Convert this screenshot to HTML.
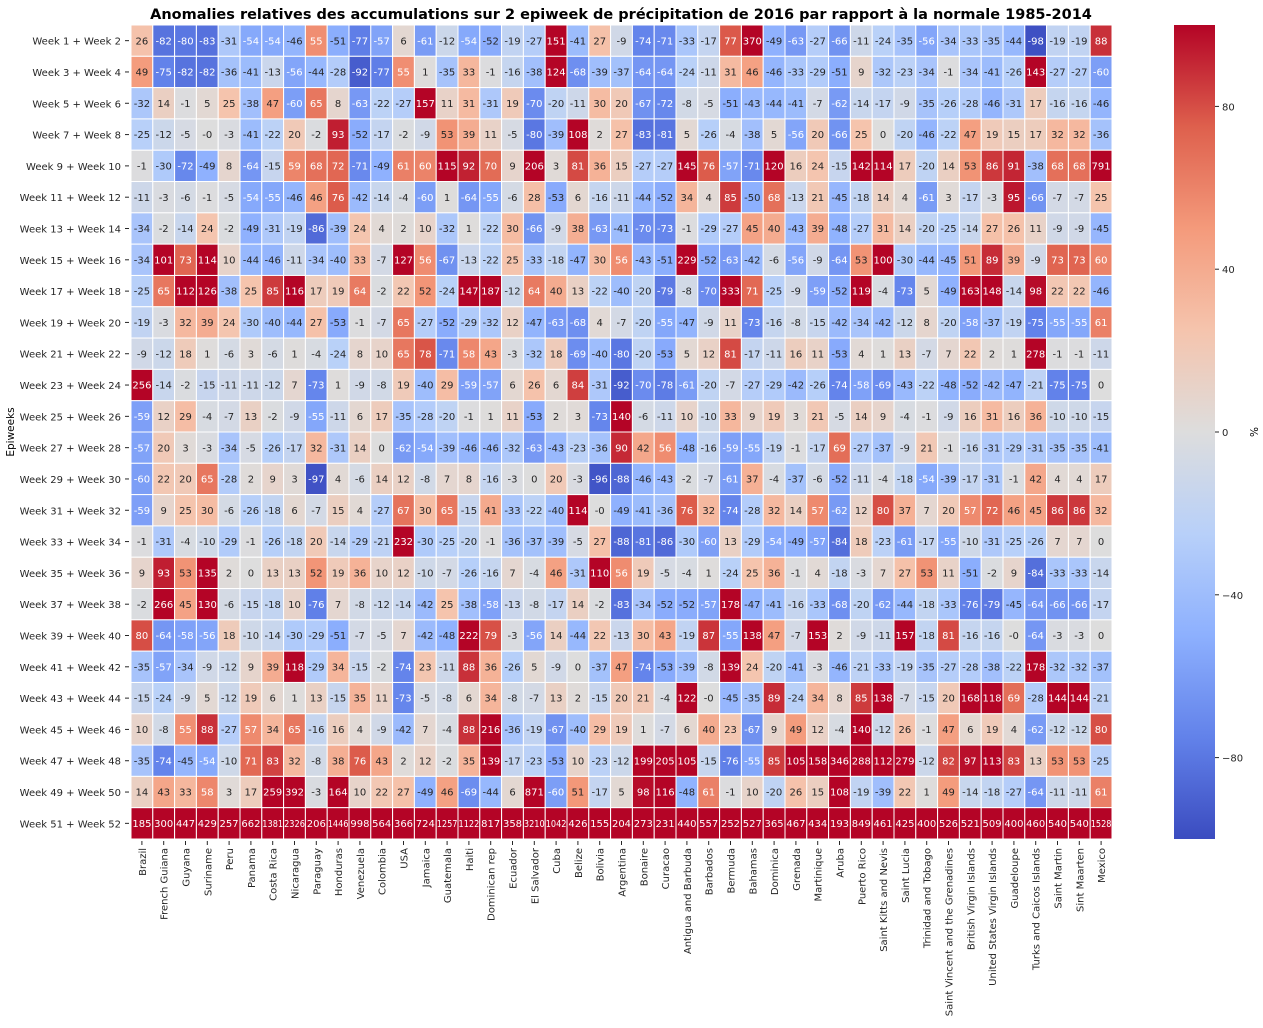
<!DOCTYPE html>
<html><head><meta charset="utf-8">
<style>
body{margin:0;background:#fff;font-family:"Liberation Sans","DejaVu Sans",sans-serif;}
svg text{font-family:"DejaVu Sans","Liberation Sans",sans-serif;}
</style></head>
<body>
<svg id="chart" width="1263" height="1023" xmlns="http://www.w3.org/2000/svg">
<defs>
<linearGradient id="cbgrad" x1="0" y1="1" x2="0" y2="0">
<stop offset="0" stop-color="rgb(59,76,192)"/><stop offset="0.125" stop-color="rgb(98,130,234)"/>
<stop offset="0.25" stop-color="rgb(141,176,254)"/><stop offset="0.375" stop-color="rgb(184,208,249)"/>
<stop offset="0.5" stop-color="rgb(221,221,221)"/><stop offset="0.625" stop-color="rgb(245,196,173)"/>
<stop offset="0.75" stop-color="rgb(244,154,123)"/><stop offset="0.875" stop-color="rgb(222,96,77)"/>
<stop offset="1" stop-color="rgb(180,4,38)"/>
</linearGradient>
</defs>
<text x="621" y="19" text-anchor="middle" font-size="14.5" font-weight="bold">Anomalies relatives des accumulations sur 2 epiweek de précipitation de 2016 par rapport à la normale 1985-2014</text>
<g id="cells"></g>
<g id="ylabels"></g>
<g id="xlabels"></g>
<text transform="translate(14,432) rotate(-90)" text-anchor="middle" font-size="10.5">Epiweeks</text>
<rect x="1174" y="25" width="41" height="814" fill="url(#cbgrad)"/>
<g id="cbticks"></g>
<text transform="translate(1250,432) rotate(90)" text-anchor="middle" font-size="10.5">%</text>
</svg>
<script>
const countries=["Brazil","French Guiana","Guyana","Suriname","Peru","Panama","Costa Rica","Nicaragua","Paraguay","Honduras","Venezuela","Colombia","USA","Jamaica","Guatemala","Haiti","Dominican rep","Ecuador","El Salvador","Cuba","Belize","Bolivia","Argentina","Bonaire","Curacao","Antigua and Barbuda","Barbados","Bermuda","Bahamas","Dominica","Grenada","Martinique","Aruba","Puerto Rico","Saint Kitts and Nevis","Saint Lucia","Trinidad and Tobago","Saint Vincent and the Grenadines","British Virgin Islands","United States Virgin Islands","Guadeloupe","Turks and Caicos Islands","Saint Martin","Sint Maarten","Mexico"];
const weeks=["Week 1 + Week 2","Week 3 + Week 4","Week 5 + Week 6","Week 7 + Week 8","Week 9 + Week 10","Week 11 + Week 12","Week 13 + Week 14","Week 15 + Week 16","Week 17 + Week 18","Week 19 + Week 20","Week 21 + Week 22","Week 23 + Week 24","Week 25 + Week 26","Week 27 + Week 28","Week 29 + Week 30","Week 31 + Week 32","Week 33 + Week 34","Week 35 + Week 36","Week 37 + Week 38","Week 39 + Week 40","Week 41 + Week 42","Week 43 + Week 44","Week 45 + Week 46","Week 47 + Week 48","Week 49 + Week 50","Week 51 + Week 52"];
const values=[
[26,-82,-80,-83,-31,-54,-54,-46,55,-51,-77,-57,6,-61,-12,-54,-52,-19,-27,151,-41,27,-9,-74,-71,-33,-17,77,370,-49,-63,-27,-66,-11,-24,-35,-56,-34,-33,-35,-44,-98,-19,-19,88],
[49,-75,-82,-82,-36,-41,-13,-56,-44,-28,-92,-77,55,1,-35,33,-1,-16,-38,124,-68,-39,-37,-64,-64,-24,-11,31,46,-46,-33,-29,-51,9,-32,-23,-34,-1,-34,-41,-26,143,-27,-27,-60],
[-32,14,-1,5,25,-38,47,-60,65,8,-63,-22,-27,157,11,31,-31,19,-70,-20,-11,30,20,-67,-72,-8,-5,-51,-43,-44,-41,-7,-62,-14,-17,-9,-35,-26,-28,-46,-31,17,-16,-16,-46],
[-25,-12,-5,-0,-3,-41,-22,20,-2,93,-52,-17,-2,-9,53,39,11,-5,-80,-39,108,2,27,-83,-81,5,-26,-4,-38,5,-56,20,-66,25,0,-20,-46,-22,47,19,15,17,32,32,-36],
[-1,-30,-72,-49,8,-64,-15,59,68,72,-71,-49,61,60,115,92,70,9,206,3,81,36,15,-27,-27,145,76,-57,-71,120,16,24,-15,142,114,17,-20,14,53,86,91,-38,68,68,791],
[-11,-3,-6,-1,-5,-54,-55,-46,46,76,-42,-14,-4,-60,1,-64,-55,-6,28,-53,6,-16,-11,-44,-52,34,4,85,-50,68,-13,21,-45,-18,14,4,-61,3,-17,-3,95,-66,-7,-7,25],
[-34,-2,-14,24,-2,-49,-31,-19,-86,-39,24,4,2,10,-32,1,-22,30,-66,-9,38,-63,-41,-70,-73,-1,-29,-27,45,40,-43,39,-48,-27,31,14,-20,-25,-14,27,26,11,-9,-9,-45],
[-34,101,73,114,10,-44,-46,-11,-34,-40,33,-7,127,56,-67,-13,-22,25,-33,-18,-47,30,56,-43,-51,229,-52,-63,-42,-6,-56,-9,-64,53,100,-30,-44,-45,51,89,39,-9,73,73,60],
[-25,65,112,126,-38,25,85,116,17,19,64,-2,22,52,-24,147,187,-12,64,40,13,-22,-40,-20,-79,-8,-70,333,71,-25,-9,-59,-52,119,-4,-73,5,-49,163,148,-14,98,22,22,-46],
[-19,-3,32,39,24,-30,-40,-44,27,-53,-1,-7,65,-27,-52,-29,-32,12,-47,-63,-68,4,-7,-20,-55,-47,-9,11,-73,-16,-8,-15,-42,-34,-42,-12,8,-20,-58,-37,-19,-75,-55,-55,61],
[-9,-12,18,1,-6,3,-6,1,-4,-24,8,10,65,78,-71,58,43,-3,-32,18,-69,-40,-80,-20,-53,5,12,81,-17,-11,16,11,-53,4,1,13,-7,7,22,2,1,278,-1,-1,-11],
[256,-14,-2,-15,-11,-11,-12,7,-73,1,-9,-8,19,-40,29,-59,-57,6,26,6,84,-31,-92,-70,-78,-61,-20,-7,-27,-29,-42,-26,-74,-58,-69,-43,-22,-48,-52,-42,-47,-21,-75,-75,0],
[-59,12,29,-4,-7,13,-2,-9,-55,-11,6,17,-35,-28,-20,-1,1,11,-53,2,3,-73,140,-6,-11,10,-10,33,9,19,3,21,-5,14,9,-4,-1,-9,16,31,16,36,-10,-10,-15],
[-57,20,3,-3,-34,-5,-26,-17,32,-31,14,0,-62,-54,-39,-46,-46,-32,-63,-43,-23,-36,90,42,56,-48,-16,-59,-55,-19,-1,-17,69,-27,-37,-9,21,-1,-16,-31,-29,-31,-35,-35,-41],
[-60,22,20,65,-28,2,9,3,-97,4,-6,14,12,-8,7,8,-16,-3,0,20,-3,-96,-88,-46,-43,-2,-7,-61,37,-4,-37,-6,-52,-11,-4,-18,-54,-39,-17,-31,-1,42,4,4,17],
[-59,9,25,30,-6,-26,-18,6,-7,15,4,-27,67,30,65,-15,41,-33,-22,-40,114,-0,-49,-41,-36,76,32,-74,-28,32,14,57,-62,12,80,37,7,20,57,72,46,45,86,86,32],
[-1,-31,-4,-10,-29,-1,-26,-18,20,-14,-29,-21,232,-30,-25,-20,-1,-36,-37,-39,-5,27,-88,-81,-86,-30,-60,13,-29,-54,-49,-57,-84,18,-23,-61,-17,-55,-10,-31,-25,-26,7,7,0],
[9,93,53,135,2,0,13,13,52,19,36,10,12,-10,-7,-26,-16,7,-4,46,-31,110,56,19,-5,-4,1,-24,25,36,-1,4,-18,-3,7,27,53,11,-51,-2,9,-84,-33,-33,-14],
[-2,266,45,130,-6,-15,-18,10,-76,7,-8,-12,-14,-42,25,-38,-58,-13,-8,-17,14,-2,-83,-34,-52,-52,-57,178,-47,-41,-16,-33,-68,-20,-62,-44,-18,-33,-76,-79,-45,-64,-66,-66,-17],
[80,-64,-58,-56,18,-10,-14,-30,-29,-51,-7,-5,7,-42,-48,222,79,-3,-56,14,-44,22,-13,30,43,-19,87,-55,138,47,-7,153,2,-9,-11,157,-18,81,-16,-16,-0,-64,-3,-3,0],
[-35,-57,-34,-9,-12,9,39,118,-29,34,-15,-2,-74,23,-11,88,36,-26,5,-9,0,-37,47,-74,-53,-39,-8,139,24,-20,-41,-3,-46,-21,-33,-19,-35,-27,-28,-38,-22,178,-32,-32,-37],
[-15,-24,-9,5,-12,19,6,1,13,-15,35,11,-73,-5,-8,6,34,-8,-7,13,2,-15,20,21,-4,122,-0,-45,-35,89,-24,34,8,85,138,-7,-15,20,168,118,69,-28,144,144,-21],
[10,-8,55,88,-27,57,34,65,-16,16,4,-9,-42,7,-4,88,216,-36,-19,-67,-40,29,19,1,-7,6,40,23,-67,9,49,12,-4,140,-12,26,-1,47,6,19,4,-62,-12,-12,80],
[-35,-74,-45,-54,-10,71,83,32,-8,38,76,43,2,12,-2,35,139,-17,-23,-53,10,-23,-12,199,205,105,-15,-76,-55,85,105,158,346,288,112,279,-12,82,97,113,83,13,53,53,-25],
[14,43,33,58,3,17,259,392,-3,164,10,22,27,-49,46,-69,-44,6,871,-60,51,-17,5,98,116,-48,61,-1,10,-20,26,15,108,-19,-39,22,1,49,-14,-18,-27,-64,-11,-11,61],
[185,300,447,429,257,662,1381,2326,206,1446,998,564,366,724,1257,1122,817,358,3210,1042,426,155,204,273,231,440,557,252,527,365,467,434,193,849,461,425,400,526,521,509,400,460,540,540,1528]
];
const cbTicks=[80,40,0,-40,-80];
const vmin=-100, vmax=100;
const X0=131, X1=1112, Y0=25, Y1=839;
const cw=(X1-X0)/countries.length, ch=(Y1-Y0)/weeks.length;
const xPos=i=>X0+i*cw;
const yPos=j=>Y0+j*ch;
const cbY=v=>Y1-(v-vmin)/(vmax-vmin)*(Y1-Y0);
const stops=[[59,76,192],[98,130,234],[141,176,254],[184,208,249],[221,221,221],[245,196,173],[244,154,123],[222,96,77],[180,4,38]];
function cmap(v){let t=(v-vmin)/(vmax-vmin);t=Math.max(0,Math.min(1,t));const p=t*8;const i=Math.min(7,Math.floor(p));const f=p-i;
return stops[i].map((c,k)=>Math.round(c+(stops[i+1][k]-c)*f));}
function lum(c){const l=c.map(x=>{x/=255;return x<=0.03928?x/12.92:Math.pow((x+0.055)/1.055,2.4);});return 0.2126*l[0]+0.7152*l[1]+0.0722*l[2];}
const NS='http://www.w3.org/2000/svg';
const cells=document.getElementById('cells');
values.forEach((row,j)=>row.forEach((v,i)=>{
  const c=cmap(v);
  const r=document.createElementNS(NS,'rect');
  
  
  r.setAttribute('x',xPos(i));r.setAttribute('y',yPos(j));
  r.setAttribute('width',cw);r.setAttribute('height',ch);
  r.setAttribute('fill','rgb('+c.join(',')+')');
  r.setAttribute('stroke','#fff');r.setAttribute('stroke-width','1');
  cells.appendChild(r);
  const t=document.createElementNS(NS,'text');
  
  
  t.setAttribute('x',xPos(i)+cw/2);t.setAttribute('y',yPos(j)+ch/2+3.6);
  t.setAttribute('text-anchor','middle');t.setAttribute('font-size','10');
  t.setAttribute('fill',lum(c)>0.408?'#262626':'#ffffff');
  const s=String(v);t.textContent=(Object.is(v,-0)?'-0':s);
  if(s.length>=4){t.setAttribute('textLength',cw-1);t.setAttribute('lengthAdjust','spacingAndGlyphs');}
  cells.appendChild(t);
}));
const yl=document.getElementById('ylabels');
weeks.forEach((w,j)=>{
  const t=document.createElementNS(NS,'text');
  
  
  t.setAttribute('x',X0-10);t.setAttribute('y',yPos(j)+ch/2+4);
  t.setAttribute('text-anchor','end');t.setAttribute('font-size','10');t.setAttribute('fill','#262626');
  t.textContent=w;yl.appendChild(t);
  const l=document.createElementNS(NS,'line');
  
  
  l.setAttribute('x1',X0-6);l.setAttribute('x2',X0-2);l.setAttribute('y1',yPos(j)+ch/2);l.setAttribute('y2',yPos(j)+ch/2);
  l.setAttribute('stroke','#262626');yl.appendChild(l);
});
const xl=document.getElementById('xlabels');
countries.forEach((c,i)=>{
  const cx=xPos(i)+cw/2;
  const t=document.createElementNS(NS,'text');
  
  
  t.setAttribute('transform','translate('+(cx+4)+','+(Y1+9)+') rotate(-90)');
  t.setAttribute('text-anchor','end');t.setAttribute('font-size','10');t.setAttribute('fill','#262626');
  t.textContent=c;xl.appendChild(t);
  const l=document.createElementNS(NS,'line');
  
  
  l.setAttribute('x1',cx);l.setAttribute('x2',cx);l.setAttribute('y1',Y1+2);l.setAttribute('y2',Y1+6);
  l.setAttribute('stroke','#262626');xl.appendChild(l);
});
const cb=document.getElementById('cbticks');
cbTicks.forEach(v=>{
  const y=cbY(v);
  const l=document.createElementNS(NS,'line');
  
  
  l.setAttribute('x1',1215);l.setAttribute('x2',1219);l.setAttribute('y1',y);l.setAttribute('y2',y);
  l.setAttribute('stroke','#262626');cb.appendChild(l);
  const t=document.createElementNS(NS,'text');
  
  
  t.setAttribute('x',1222);t.setAttribute('y',y+4);t.setAttribute('font-size','10');t.setAttribute('fill','#262626');
  t.textContent=v<0?'\u2212'+(-v):String(v);cb.appendChild(t);
});
</script>
</body></html>
